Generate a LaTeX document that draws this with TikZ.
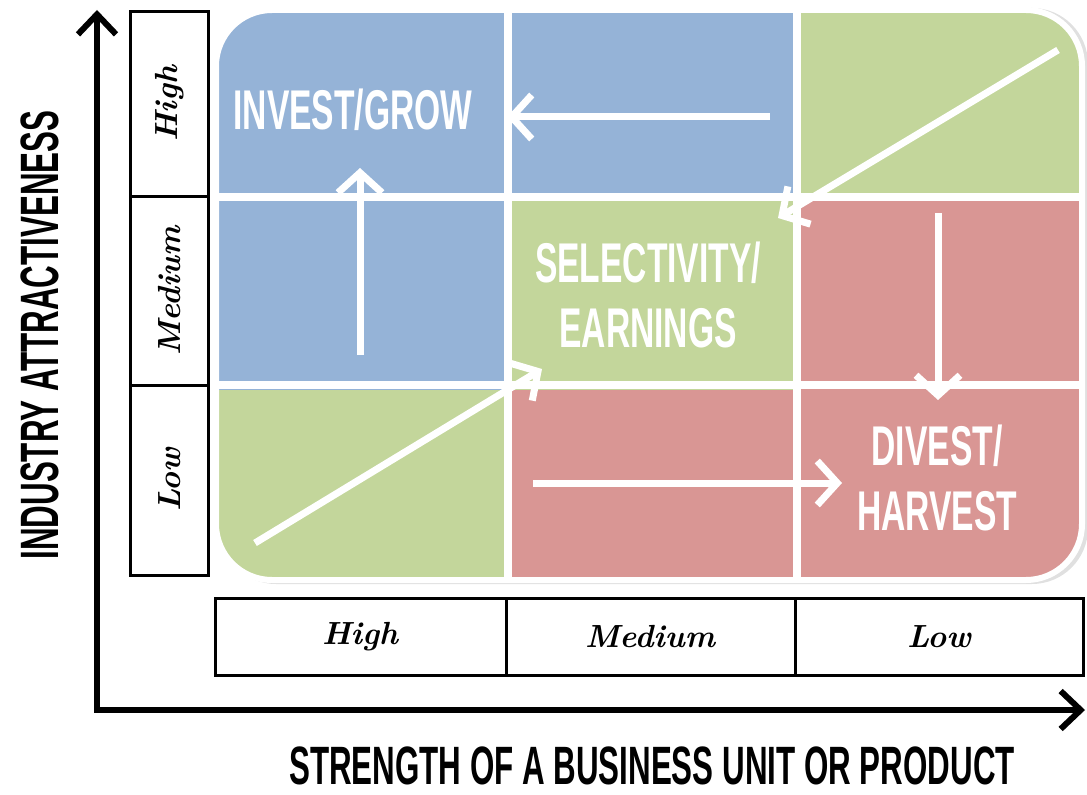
\documentclass[tikz,border=0pt]{standalone}
\usepackage{fontspec}
\newfontfamily\headfont[FakeStretch=0.6]{Liberation Sans}
\newfontfamily\axisfont[FakeStretch=0.58]{Liberation Sans}
\usetikzlibrary{arrows.meta}
\definecolor{cellblue}{HTML}{95B3D7}
\definecolor{cellgreen}{HTML}{C3D69B}
\definecolor{cellred}{HTML}{D99694}
\tikzset{
	celltext/.style={text=white, font=\headfont\bfseries\fontsize{28}{32.5}\selectfont, align=center},
	axistext/.style={text=black, inner sep=0pt, font=\axisfont\bfseries\fontsize{27}{32}\selectfont},
	levelbox/.style={draw=black, line width=1.5pt},
	leveltext/.style={font=\bfseries\itshape\fontsize{16}{18}\selectfont},
	movearrow/.style={draw=white, line width=3.5pt, -{Straight Barb[length=10pt,width=22pt]}}
}
\begin{document}
\begin{tikzpicture}[x=0.5pt,y=0.5pt]
	\useasboundingbox (0,0) rectangle (1087,794);
	% axes
	\draw[line width=3pt, {Straight Barb[length=10pt,width=19pt]}-{Straight Barb[length=10pt,width=19pt]}] (97,784) -- (97,84) -- (1085,84);
	\node[axistext, rotate=90] (yaxis) at (40,459) {INDUSTRY ATTRACTIVENESS};
	\node[axistext] (xaxis) at (652,28) {STRENGTH OF A BUSINESS UNIT OR PRODUCT};

	% level boxes
	\draw[levelbox] (130,782) rectangle (208,219);
	\draw[levelbox] (130,597) -- (208,597) (130,409) -- (208,409);
	\draw[levelbox] (215,196) rectangle (1083,119);
	\draw[levelbox] (506,196) -- (506,119) (795,196) -- (795,119);
	\foreach \y/\t in {690/High, 503/Medium, 314/Low}{
		\node[leveltext, rotate=90] (left\t) at (170,\y) {\t};
	}
	\foreach \x/\t in {360/High, 650/Medium, 939/Low}{
		\node[leveltext] (bottom\t) at (\x,157) {\t};
	}

	% matrix cells
	\fill[black!12, rounded corners=28] (220,210) rectangle (1088,786);
	\begin{scope}
		\clip[rounded corners=28] (216,214) rectangle (1082,784);
		\foreach \c/\r/\col in {0/0/cellblue, 1/0/cellblue, 2/0/cellgreen,
		                         0/1/cellblue, 1/1/cellgreen, 2/1/cellred,
		                         0/2/cellgreen, 1/2/cellred, 2/2/cellred}{
			\fill[\col] ({216+\c*289},{784-\r*190}) rectangle ++(290,-190);
		}
	\end{scope}
	\draw[white, line width=4pt] (508,784) -- (508,214) (797,784) -- (797,214);
	\draw[white, line width=4pt] (216,597) -- (1082,597) (216,409) -- (1082,409);
	\draw[white, line width=3pt, rounded corners=28] (216,214) rectangle (1082,784);

	% strategy labels
	\node[celltext] (invest) at (353,684) {INVEST/GROW};
	\node[celltext] (select) at (648,499) {SELECTIVITY/\\EARNINGS};
	\node[celltext] (divest) at (937,316) {DIVEST/\\HARVEST};

	% movements
	\coordinate (a1) at (770,677); \coordinate (b1) at (507,677);
	\coordinate (a2) at (360,439); \coordinate (b2) at (360,626);
	\coordinate (a3) at (1058,744); \coordinate (b3) at (778,576);
	\coordinate (a4) at (255,251); \coordinate (b4) at (542,425);
	\coordinate (a5) at (938,581); \coordinate (b5) at (938,394);
	\coordinate (a6) at (533,311); \coordinate (b6) at (842,311);
	\foreach \i in {1,...,6}{
		\draw[movearrow] (a\i) -- (b\i);
	}
\end{tikzpicture}
\end{document}
